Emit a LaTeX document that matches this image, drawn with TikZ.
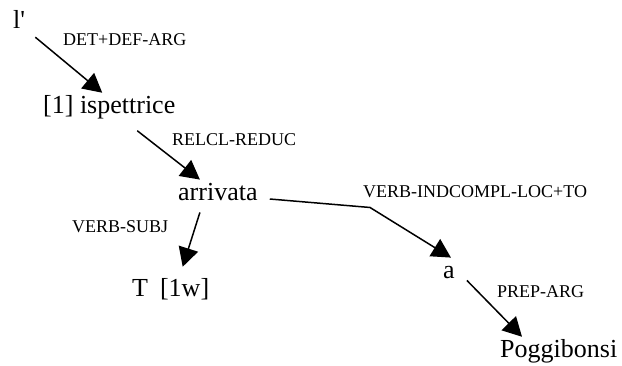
\documentclass[tikz,border=0pt]{standalone}
\usepackage{fontspec}
\setmainfont{Liberation Serif}
\usepackage{tikz}
\usetikzlibrary{arrows.meta,calc}

\begin{document}
\begin{tikzpicture}[x=1pt,y=-1pt,
  word/.style={anchor=base west,inner sep=0pt,font=\fontsize{26}{30}\selectfont},
  rel/.style={anchor=base west,inner sep=0pt,font=\fontsize{18}{21}\selectfont},
  dep/.style={-{Triangle[length=19pt,width=20pt]},line width=1.5pt}]
  \useasboundingbox (0,0) rectangle (622,365);
  % words
  \node[word] (lq) at (13,28) {l\textquotesingle};
  \node[word] (isp) at (43,113) {[1] ispettrice};
  \node[word] (arr) at (178,200) {arrivata};
  \node[word] (tw) at (132,296) {T\hspace{12pt}[1w]};
  \node[word] (prep) at (443,278) {a};
  \node[word] (pog) at (500,357) {Poggibonsi};
  % relation labels
  \node[rel] (rdet) at (63,45) {DET+DEF-ARG};
  \node[rel] (rrel) at (172,145) {RELCL-REDUC};
  \node[rel] (rsubj) at (72,232) {VERB-SUBJ};
  \node[rel] (rloc) at (363,197) {VERB-INDCOMPL-LOC+TO};
  \node[rel] (rarg) at (497,297) {PREP-ARG};
  % arrows
  \draw[dep] ($(lq.south east)+(10,9)$) -- ($(isp.north)+(-7,-2)$);
  \draw[dep] ($(isp.south)+(28,12)$) -- ($(arr.north)+(-18,-3)$);
  \draw[dep] ($(arr.south)+(-18,12)$) -- ($(tw.north)+(12,-11)$);
  \coordinate (bend) at ($(rloc.south west)+(7,10)$);
  \draw[dep] ($(arr.base east)+(12,-1)$) -- (bend) -- ($(prep.north)+(2,-8)$);
  \draw[dep] ($(prep.south east)+(12,2)$) -- ($(pog.north west)+(22,-2)$);
\end{tikzpicture}
\end{document}
